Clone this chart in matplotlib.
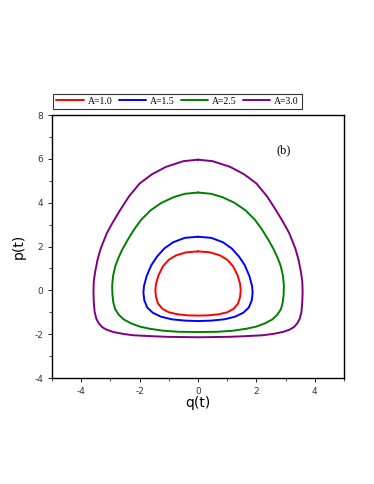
import matplotlib
matplotlib.use("Agg")
import matplotlib.pyplot as plt
from matplotlib.ticker import MultipleLocator

labels = ["A=1.0", "A=1.5", "A=2.5", "A=3.0"]
colors = ["#ff0000", "#0000ff", "#008000", "#800080"]

# A=1.0 (red)
q1 = [0, 0.4, 0.75, 1.0, 1.2, 1.35, 1.44, 1.46, 1.44, 1.37, 1.22, 1.0, 0.7, 0.35, 0,
      -0.35, -0.7, -1.0, -1.22, -1.37, -1.44, -1.46, -1.44, -1.35, -1.2, -1.0, -0.75, -0.4, 0]
p1 = [1.78, 1.74, 1.6, 1.4, 1.1, 0.7, 0.3, 0.0, -0.3, -0.6, -0.84, -1.0, -1.09, -1.14, -1.15,
      -1.14, -1.09, -1.0, -0.84, -0.6, -0.3, 0.0, 0.3, 0.7, 1.1, 1.4, 1.6, 1.74, 1.78]

# A=1.5 (blue)
q2 = [0, 0.45, 0.85, 1.15, 1.4, 1.6, 1.76, 1.85, 1.87, 1.84, 1.74, 1.55, 1.27, 0.9, 0.45, 0,
      -0.45, -0.9, -1.27, -1.55, -1.74, -1.84, -1.87, -1.85, -1.76, -1.6, -1.4, -1.15, -0.85, -0.45, 0]
p2 = [2.45, 2.4, 2.2, 1.92, 1.55, 1.15, 0.65, 0.2, -0.1, -0.45, -0.78, -1.02, -1.2, -1.32, -1.38, -1.4,
      -1.38, -1.32, -1.2, -1.02, -0.78, -0.45, -0.1, 0.2, 0.65, 1.15, 1.55, 1.92, 2.2, 2.4, 2.45]

# A=2.5 (green)
q3 = [0, 0.45, 0.83, 1.25, 1.63, 1.95, 2.2, 2.42, 2.58, 2.72, 2.83, 2.91, 2.94, 2.93, 2.9, 2.84, 2.72, 2.55,
      2.3, 2.0, 1.66, 1.2, 0.65, 0,
      -0.65, -1.2, -1.66, -2.0, -2.3, -2.55, -2.72, -2.84, -2.9, -2.93, -2.94, -2.91, -2.83, -2.72, -2.58,
      -2.42, -2.2, -1.95, -1.63, -1.25, -0.83, -0.45, 0]
p3 = [4.47, 4.41, 4.26, 4.0, 3.65, 3.22, 2.76, 2.28, 1.9, 1.5, 1.12, 0.65, 0.2, -0.2, -0.55, -0.85, -1.1, -1.32,
      -1.5, -1.65, -1.75, -1.84, -1.89, -1.9,
      -1.89, -1.84, -1.75, -1.65, -1.5, -1.32, -1.1, -0.85, -0.55, -0.2, 0.2, 0.65, 1.12, 1.5, 1.9,
      2.28, 2.76, 3.22, 3.65, 4.0, 4.26, 4.41, 4.47]

# A=3.0 (purple)
q4 = [0, 0.5, 1.1, 1.58, 2.0, 2.36, 2.66, 2.9, 3.12, 3.33, 3.44, 3.52, 3.57, 3.58, 3.57, 3.54, 3.48, 3.4,
      3.28, 3.12, 2.9, 2.55, 2.2, 1.6, 1.06, 0.5, 0,
      -0.5, -1.06, -1.6, -2.2, -2.55, -2.9, -3.12, -3.28, -3.4, -3.48, -3.54, -3.57, -3.58, -3.57, -3.52,
      -3.44, -3.33, -3.12, -2.9, -2.66, -2.36, -2.0, -1.58, -1.1, -0.5, 0]
p4 = [5.97, 5.9, 5.64, 5.3, 4.88, 4.3, 3.68, 3.15, 2.62, 1.92, 1.4, 0.86, 0.4, -0.06, -0.5, -0.98, -1.3, -1.5,
      -1.68, -1.8, -1.9, -1.99, -2.05, -2.09, -2.12, -2.13, -2.14,
      -2.13, -2.12, -2.09, -2.05, -1.99, -1.9, -1.8, -1.68, -1.5, -1.3, -0.98, -0.5, -0.06, 0.4, 0.86,
      1.4, 1.92, 2.62, 3.15, 3.68, 4.3, 4.88, 5.3, 5.64, 5.9, 5.97]

xticks = [-4, -2, 0, 2, 4]
yticks = [-4, -2, 0, 2, 4, 6, 8]

fig = plt.figure(figsize=(3.74, 4.84), dpi=100)
ax = fig.add_axes([0.139, 0.219, 0.781, 0.543])

for q, p, c, lab in zip([q1, q2, q3, q4], [p1, p2, p3, p4], colors, labels):
    ax.plot(q, p, color=c, lw=1.4, label=lab, solid_joinstyle="round", solid_capstyle="round")

ax.set_xlim(-5, 5)
ax.set_ylim(-4, 8)
ax.set_xticks(xticks)
ax.set_yticks(yticks)
ax.set_xticklabels([str(t) for t in xticks])
ax.set_yticklabels([str(t) for t in yticks])
ax.xaxis.set_minor_locator(MultipleLocator(1))
ax.yaxis.set_minor_locator(MultipleLocator(1))
ax.tick_params(which="major", direction="out", length=3, width=0.6, labelsize=6.5,
               labelcolor="#333333", top=False, right=False)
ax.tick_params(which="minor", direction="out", length=2, width=0.5, top=False, right=False)
for s in ax.spines.values():
    s.set_linewidth(1.0)

ax.set_xlabel("q(t)", fontsize=10, labelpad=0)
ax.set_ylabel("p(t)", fontsize=10, labelpad=6)

ax.text(2.93, 6.4, "(b)", fontsize=9, family="Liberation Serif", ha="center", va="center")

leg = ax.legend(loc="lower left", bbox_to_anchor=(0.005, 1.025), ncol=4, frameon=True,
                fancybox=False, edgecolor="black", handlelength=2.8, handletextpad=0.45,
                columnspacing=0.6, borderpad=0.3, borderaxespad=0,
                prop={"family": "Liberation Serif", "size": 7})
leg.get_frame().set_linewidth(0.8)

fig.savefig("out.png", dpi=100)
